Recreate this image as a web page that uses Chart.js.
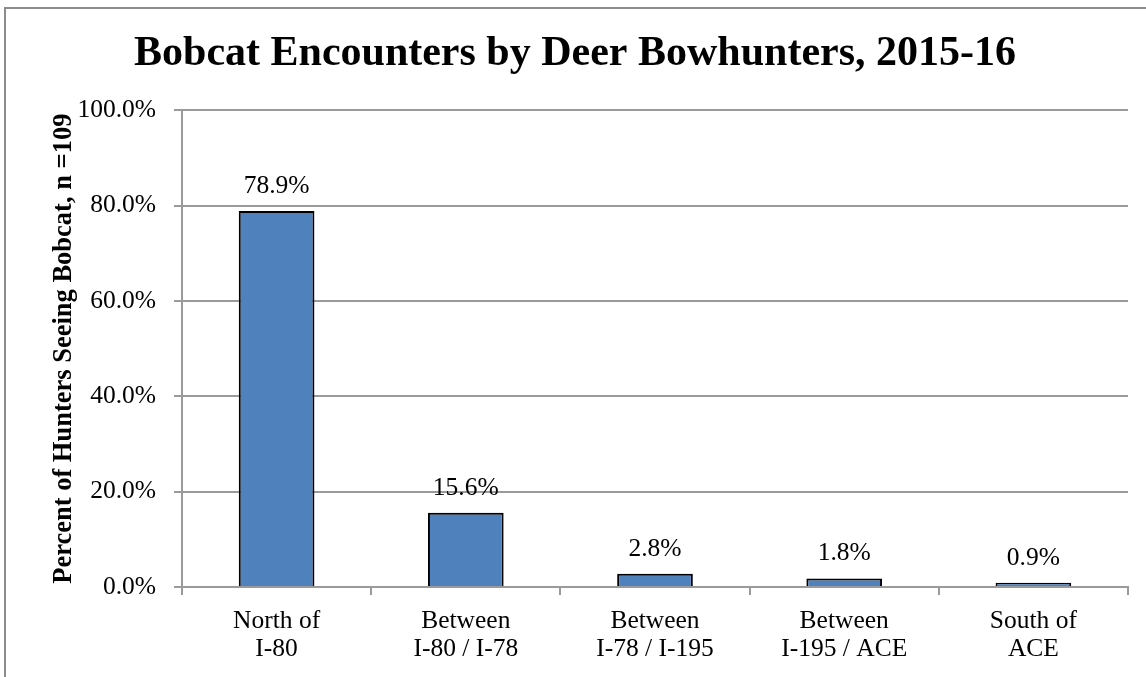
<!DOCTYPE html>
<html>
<head>
<meta charset="utf-8">
<script src="https://cdn.jsdelivr.net/npm/chart.js@4"></script>
<style>
  html, body { margin: 0; padding: 0; background: #fff; overflow: hidden; }
  #wrap { position: relative; width: 1146px; height: 677px; }
  #frame { position: absolute; left: 4px; top: 7px; width: 1160px; height: 700px; border: 2px solid #8c8c8c; box-sizing: border-box; }
  canvas { position: absolute; left: 0; top: 0; }
</style>
</head>
<body>
<div id="wrap">
  <div id="frame"></div>
  <canvas id="bobcatChart" width="1146" height="677"></canvas>
</div>
<script>
const categories = [
  ['North of', 'I-80'],
  ['Between', 'I-80 / I-78'],
  ['Between', 'I-78 / I-195'],
  ['Between', 'I-195 / ACE'],
  ['South of', 'ACE'],
];
const percentSeeing = [78.9, 15.6, 2.8, 1.8, 0.9];
const yTicks = [0, 20, 40, 60, 80, 100];

const serif = '"Liberation Serif", "Times New Roman", serif';

// draw the value above each bar
const barLabels = {
  id: 'barLabels',
  afterDatasetsDraw(chart) {
    const ctx = chart.ctx;
    const meta = chart.getDatasetMeta(0);
    ctx.save();
    ctx.font = '25.5px ' + serif;
    ctx.fillStyle = '#000';
    ctx.textAlign = 'center';
    ctx.textBaseline = 'alphabetic';
    meta.data.forEach((bar, i) => {
      ctx.fillText(percentSeeing[i].toFixed(1) + '%', bar.x, bar.y - 18);
    });
    ctx.restore();
  },
};

const ctx = document.getElementById('bobcatChart');
new Chart(ctx, {
  type: 'bar',
  data: {
    labels: categories,
    datasets: [{
      data: percentSeeing,
      backgroundColor: '#4F81BD',
      borderColor: '#000',
      borderWidth: 2,
      barPercentage: 0.4,
      categoryPercentage: 1.0,
    }],
  },
  options: {
    responsive: false,
    animation: false,
    layout: { padding: { top: 0, right: 18, bottom: 0, left: 22 } },
    plugins: {
      legend: { display: false },
      tooltip: { enabled: false },
      title: {
        display: true,
        text: 'Bobcat Encounters by Deer Bowhunters, 2015-16',
        color: '#000',
        font: { family: serif, size: 42, weight: 'bold', lineHeight: 1.2 },
        padding: { top: 29, bottom: 31 },
      },
    },
    scales: {
      y: {
        min: 0,
        max: 100,
        afterBuildTicks(scale) {
          scale.ticks = yTicks.map(v => ({ value: v }));
        },
        afterFit(scale) { scale.width = 160; },
        ticks: {
          color: '#000',
          font: { family: serif, size: 25.5 },
          padding: 18,
          callback: v => v.toFixed(1) + '%',
        },
        grid: { color: '#9a9a9a', lineWidth: 2, tickLength: 8, drawTicks: true },
        border: { display: true, color: '#9a9a9a', width: 2 },
        title: {
          display: true,
          text: 'Percent of Hunters Seeing Bobcat, n =109',
          color: '#000',
          font: { family: serif, size: 26.5, weight: 'bold', lineHeight: 1.2 },
          padding: { top: 26, bottom: 0 },
        },
      },
      x: {
        afterFit(scale) { scale.height = 90; },
        ticks: {
          color: '#000',
          font: { family: serif, size: 25.5, lineHeight: 1.1 },
          padding: 12,
          maxRotation: 0,
        },
        grid: { offset: true, drawOnChartArea: false, color: '#9a9a9a', lineWidth: 2, tickLength: 8 },
        border: { display: true, color: '#9a9a9a', width: 2 },
      },
    },
  },
  plugins: [barLabels],
});
</script>
</body>
</html>
